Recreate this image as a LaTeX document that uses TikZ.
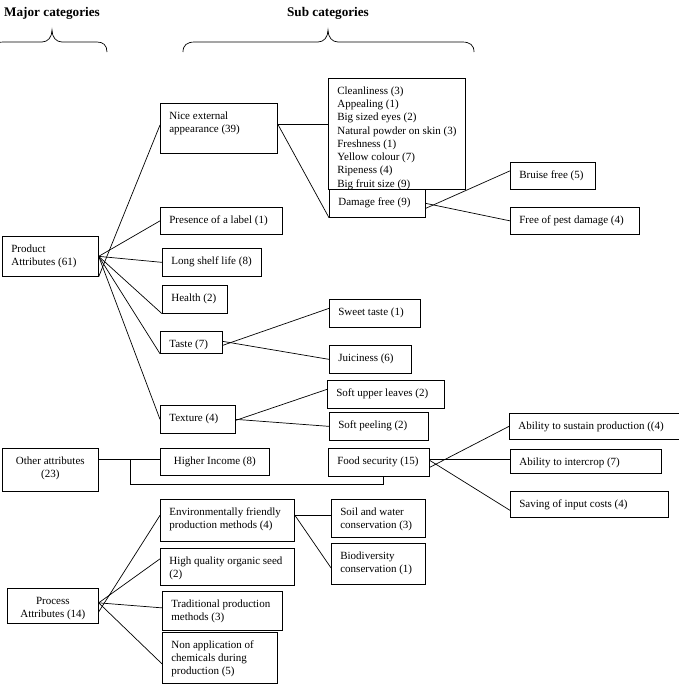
\documentclass[tikz,border=0pt]{standalone}
\usepackage{fontspec}
\setmainfont{Liberation Serif}
\usetikzlibrary{calc}
\tikzset{
  bx/.style={draw, line width=0.7pt, inner sep=0pt, anchor=north west, font=\fontsize{11}{13.3}\selectfont},
  ln/.style={line width=0.7pt},
  hdr/.style={font=\bfseries\fontsize{13.2}{15}\selectfont, inner sep=0pt}
}
\newcommand{\Lft}{\raggedright\leftskip=9pt\relax}
\newcommand{\Ctr}{\centering}
\newcommand{\bx}[7]{\node[bx] (#1) at (#2,#3) {\parbox[c][#5pt][t]{#4pt}{#6\vspace*{6.5pt}\strut #7}};}
\begin{document}
\begin{tikzpicture}[x=1pt,y=-1pt]
\useasboundingbox (0,0) rectangle (679,686);
\fill[white] (0,0) rectangle (679,686);
% headers
\node[hdr] (hmaj) at (52,13) {Major categories};
\node[hdr] (hsub) at (328,13) {Sub categories};
% braces
\draw[ln] (-8,52) .. controls (-8,45) and (-4,42) .. (4,42) -- (42,42) .. controls (48,42) and (52,37) .. (52,30) .. controls (52,37) and (56,42) .. (62,42) -- (97,42) .. controls (103,42) and (107,45) .. (107,52);
\draw[ln] (183,52) .. controls (183,45) and (187,42) .. (195,42) -- (318,42) .. controls (324,42) and (328,37) .. (328,30) .. controls (328,37) and (332,42) .. (338,42) -- (462,42) .. controls (470,42) and (474,45) .. (474,52);
% boxes
\bx{pa}{2}{236}{96}{40}{\Lft}{Product\\Attributes (61)}
\bx{nice}{160}{103}{117}{50}{\Lft}{Nice external\\appearance (39)}
\bx{pres}{160}{207}{122}{27}{\Lft}{Presence of a label (1)}
\bx{shelf}{162}{248}{99}{28}{\Lft}{Long shelf life (8)}
\bx{health}{162}{285}{65}{28}{\Lft}{Health (2)}
\bx{taste}{160}{331}{62}{22}{\Lft}{Taste (7)}
\bx{texture}{160}{405}{75}{28}{\Lft}{Texture (4)}
\bx{clean}{328}{78}{137}{111}{\Lft}{Cleanliness (3)\\Appealing (1)\\Big sized eyes (2)\\Natural powder on skin (3)\\Freshness (1)\\Yellow colour (7)\\Ripeness (4)\\Big fruit size (9)}
\bx{damage}{329}{189}{96}{28}{\Lft}{Damage free (9)}
\bx{bruise}{510}{162}{85}{27}{\Lft}{Bruise free (5)}
\bx{pest}{510}{207}{129}{27}{\Lft}{Free of pest damage (4)}
\bx{sweet}{329}{299}{91}{28}{\Lft}{Sweet taste (1)}
\bx{juicy}{329}{345}{82}{28}{\Lft}{Juiciness (6)}
\bx{softup}{327}{380}{117}{28}{\Lft}{Soft upper leaves (2)}
\bx{softpeel}{329}{412}{99}{28}{\Lft}{Soft peeling (2)}
\bx{other}{2}{448}{96}{43}{\Ctr}{Other attributes\\(23)}
\bx{income}{160}{448}{109}{27}{\Ctr}{Higher Income (8)}
\bx{food}{328}{448}{101}{28}{\Lft}{Food security (15)}
\bx{sustain}{509}{413}{172}{26}{\Lft}{Ability to sustain production ((4)}
\bx{intercrop}{510}{449}{151}{24}{\Lft}{Ability to intercrop (7)}
\bx{saving}{510}{491}{158}{26}{\Lft}{Saving of input costs (4)}
\bx{env}{160}{499}{134}{42}{\Lft}{Environmentally friendly\\production methods (4)}
\bx{soil}{331}{499}{94}{38}{\Lft}{Soil and water\\conservation (3)}
\bx{bio}{331}{543}{94}{41}{\Lft}{Biodiversity\\conservation (1)}
\bx{hq}{160}{548}{134}{37}{\Lft}{High quality organic seed\\(2)}
\bx{trad}{162}{591}{120}{39}{\Lft}{Traditional production\\methods (3)}
\bx{nonapp}{162}{632}{115}{51}{\Lft}{Non application of\\chemicals during\\production (5)}
\bx{proc}{7}{588}{91}{35}{\Ctr}{Process\\Attributes (14)}
% connectors: product attributes
\draw[ln] (pa.south east) -- ($(nice.north west)+(0,22)$);
\draw[ln] (pa.east) -- (pres.west);
\draw[ln] (pa.east) -- (shelf.west);
\draw[ln] (pa.east) -- (health.south west);
\draw[ln] (pa.east) -- (taste.south west);
\draw[ln] (pa.east) -- (texture.west);
\draw[ln] ($(nice.north east)+(0,21)$) -- ($(clean.north west)+(0,46)$);
\draw[ln] ($(nice.north east)+(0,21)$) -- (damage.south west);
\draw[ln] ($(damage.east)+(0,5)$) -- ($(bruise.west)+(0,-5)$);
\draw[ln] (damage.east) -- (pest.west);
\draw[ln] ($(taste.east)+(0,3)$) -- ($(sweet.west)+(0,-5)$);
\draw[ln] ($(taste.east)+(0,-1)$) -- (juicy.west);
\draw[ln] ($(texture.east)+(0,1)$) -- ($(softup.west)+(0,-5)$);
\draw[ln] (texture.east) -- (softpeel.west);
% other attributes
\draw[ln] ($(other.north east)+(0,11)$) -- ($(income.north west)+(0,11)$);
\coordinate (obr) at ($(other.north east)+(32,11)$);
\draw[ln] (obr) -- ($(obr)+(0,25)$) -| ($(food.south west)+(55,0)$);
\draw[ln] ($(food.east)+(0,5)$) -- (sustain.west);
\draw[ln] ($(food.east)+(0,-3)$) -- ($(intercrop.west)+(0,-2)$);
\draw[ln] ($(food.east)+(0,-2)$) -- ($(saving.west)+(0,6)$);
% process attributes
\draw[ln] ($(proc.east)+(0,6)$) -- ($(env.west)+(0,-5)$);
\draw[ln] ($(proc.east)+(0,-3)$) -- ($(hq.west)+(0,-8)$);
\draw[ln] ($(proc.east)+(0,-3)$) -- ($(trad.west)+(0,-3)$);
\draw[ln] ($(proc.east)+(0,-3)$) -- ($(nonapp.west)+(0,6)$);
\draw[ln] ($(env.north east)+(0,16)$) -- ($(soil.north west)+(0,16)$);
\draw[ln] ($(env.north east)+(0,16)$) -- ($(bio.west)+(0,4)$);
\end{tikzpicture}
\end{document}
